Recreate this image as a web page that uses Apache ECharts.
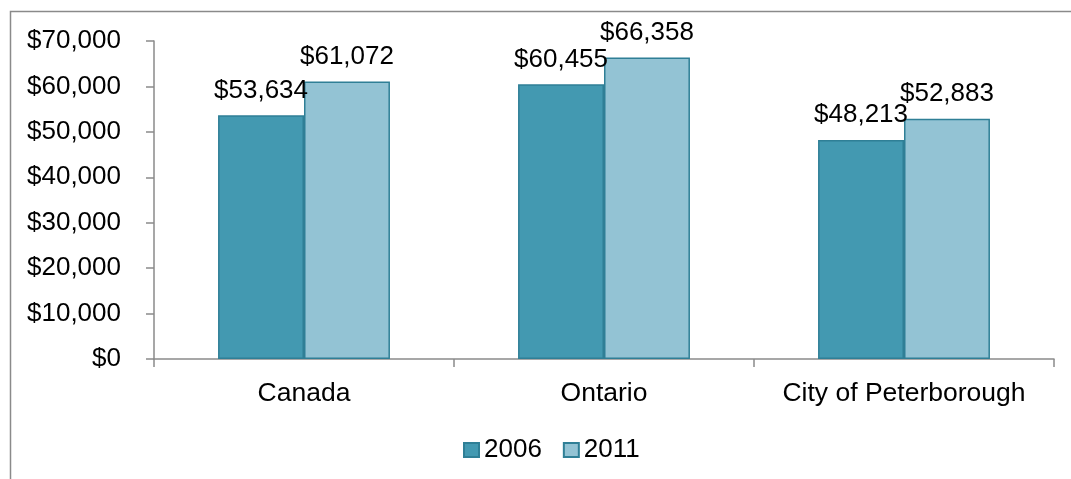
<!DOCTYPE html>
<html>
<head>
<meta charset="utf-8">
<script src="https://cdn.jsdelivr.net/npm/echarts@6/dist/echarts.min.js"></script>
<style>
  html, body { margin: 0; padding: 0; background: #ffffff; }
  #chart { width: 1071px; height: 479px; }
</style>
</head>
<body>
<div id="chart"></div>
<script>
// Median household income by region
const regions = ['Canada', 'Ontario', 'City of Peterborough'];
const income2006 = [53634, 60455, 48213];
const income2011 = [61072, 66358, 52883];
const seriesNames = ['2006', '2011'];
const yTicks = { min: 0, max: 70000, interval: 10000 };

const fontFamily = 'Liberation Sans, Arial, sans-serif';
const axisGray = '#8a8a8a';
const textSize = 26;

function money(v) {
  return '$' + Number(v).toLocaleString('en-US');
}

const chart = echarts.init(document.getElementById('chart'), null, { renderer: 'canvas' });

const labelStyle = {
  show: true,
  position: 'top',
  distance: 12,
  color: '#000',
  fontSize: textSize,
  fontFamily: fontFamily,
  formatter: p => money(p.value)
};

chart.setOption({
  animation: false,
  backgroundColor: '#ffffff',
  graphic: [{
    type: 'rect',
    shape: { x: 10.5, y: 11.5, width: 1200, height: 600 },
    style: { fill: 'none', stroke: axisGray, lineWidth: 1.5 },
    silent: true,
    z: -1
  }],
  grid: { left: 154, right: 17, top: 41, bottom: 120 },
  legend: {
    data: seriesNames,
    top: 432,
    left: 458,
    itemWidth: 15,
    itemHeight: 14,
    itemGap: 21,
    icon: 'rect',
    textStyle: { fontSize: textSize, fontFamily: fontFamily, color: '#000' }
  },
  xAxis: {
    type: 'category',
    data: regions,
    axisLine: { lineStyle: { color: axisGray, width: 1.5 } },
    axisTick: { show: true, interval: 0, length: 8, alignWithLabel: false, lineStyle: { color: axisGray, width: 1.5 } },
    axisLabel: { interval: 0, hideOverlap: false, fontSize: 26.5, fontFamily: fontFamily, color: '#000', margin: 21 }
  },
  yAxis: {
    type: 'value',
    min: yTicks.min,
    max: yTicks.max,
    interval: yTicks.interval,
    axisLine: { show: true, lineStyle: { color: axisGray, width: 1.5 } },
    axisTick: { show: true, length: 8, lineStyle: { color: axisGray, width: 1.5 } },
    splitLine: { show: false },
    axisLabel: { fontSize: textSize, fontFamily: fontFamily, color: '#000', margin: 33, formatter: money }
  },
  series: [
    {
      name: seriesNames[0],
      type: 'bar',
      data: income2006,
      barGap: '0%',
      barCategoryGap: '42.7%',
      itemStyle: { color: '#4399b1', borderColor: '#2f7f96', borderWidth: 1.5 },
      label: labelStyle
    },
    {
      name: seriesNames[1],
      type: 'bar',
      data: income2011,
      barGap: '0%',
      barCategoryGap: '42.7%',
      itemStyle: { color: '#93c3d4', borderColor: '#2f7f96', borderWidth: 1.5 },
      label: labelStyle
    }
  ]
});
</script>
</body>
</html>
